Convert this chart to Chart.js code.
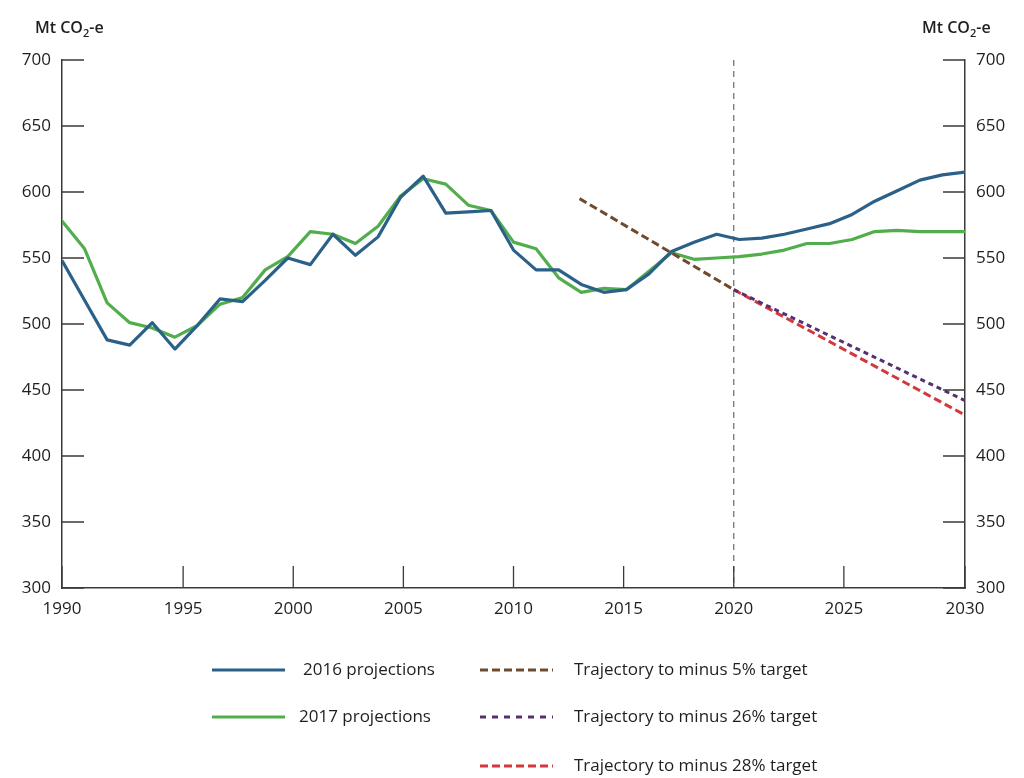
<!DOCTYPE html>
<html lang="en">
<head>
    <meta charset="UTF-8">
    <title>Emissions projections</title>
    <script src="https://cdn.jsdelivr.net/npm/chart.js"></script>
    <style>
        body { margin: 0; background: white; overflow: hidden; }
        #wrap { width: 1024px; height: 778px; position: relative; }
    </style>
</head>
<body>
    <div id="wrap"><canvas id="grafico"></canvas></div>
<script>

    // data
    const anos = [];
    for (let a = 1990; a <= 2030; a++) anos.push(a);

    const proj2016 = [548, 518, 488, 484, 501, 481, 499, 519, 517, 533,
        550, 545, 568, 552, 566, 596, 612, 584, 585, 586,
        556, 541, 541, 530, 524, 526, 538, 555, 562, 568,
        564, 565, 568, 572, 576, 583, 593, 601, 609, 613, 615];

    const proj2017 = [578, 557, 516, 501, 497, 490, 499, 515, 520, 541,
        551, 570, 568, 561, 574, 597, 610, 606, 590, 586,
        562, 557, 535, 524, 527, 526, 540, 554, 549, 550,
        551, 553, 556, 561, 561, 564, 570, 571, 570, 570, 570];

    // trajectories sit on the category style axis (edges at 1989.5 / 2030.5)
    const anosMenos5 = [2013, 2020];
    const menos5 = [595, 526];
    const anosMenos26 = [2020, 2030.5];
    const menos26 = [526, 442];
    const anosMenos28 = [2020, 2030.5];
    const menos28 = [526, 431];

    const ticksX = [1989.5, 1995, 2000, 2005, 2010, 2015, 2020, 2025, 2030.5];
    const rotulosX = ['1990', '1995', '2000', '2005', '2010', '2015', '2020', '2025', '2030'];
    const ticksY = [300, 350, 400, 450, 500, 550, 600, 650, 700];
    const linhaVertical = 2020;

    const FONTE = "'Open Sans', sans-serif";
    const AZUL = '#2b6189';
    const VERDE = '#52ad4c';
    const MARROM = '#6e4a2f';
    const ROXO = '#56306f';
    const VERMELHO = '#d2383d';
    const EIXO = '#3a3a3a';
    const TEXTO = '#1e1e1e';

    const pontos = (xs, ys) => xs.map((x, i) => ({ x: x, y: ys[i] }));

    const extras = {
        id: 'extras',
        beforeDatasetsDraw(chart) {
            const { ctx, chartArea, scales } = chart;
            const x = scales.xt.getPixelForValue(linhaVertical);
            ctx.save();
            ctx.strokeStyle = '#6a6a6a';
            ctx.lineWidth = 1.2;
            ctx.setLineDash([6, 5]);
            ctx.beginPath();
            ctx.moveTo(x, chartArea.top);
            ctx.lineTo(x, chartArea.bottom);
            ctx.stroke();
            ctx.restore();
        },
        afterDraw(chart) {
            const { ctx, chartArea, scales } = chart;
            ctx.save();
            // marcas para dentro
            ctx.strokeStyle = EIXO;
            ctx.lineWidth = 1.3;
            ctx.beginPath();
            ticksX.forEach(v => {
                const px = scales.xt.getPixelForValue(v);
                ctx.moveTo(px, chartArea.bottom);
                ctx.lineTo(px, chartArea.bottom - 22);
            });
            ticksY.forEach(v => {
                const py = scales.y.getPixelForValue(v);
                ctx.moveTo(chartArea.left, py);
                ctx.lineTo(chartArea.left + 22, py);
                const py2 = scales.y2.getPixelForValue(v);
                ctx.moveTo(chartArea.right, py2);
                ctx.lineTo(chartArea.right - 22, py2);
            });
            ctx.stroke();

            // titulos dos eixos
            const titulo = (xEsq) => {
                ctx.fillStyle = TEXTO;
                ctx.textBaseline = 'alphabetic';
                ctx.textAlign = 'left';
                ctx.font = '600 16px ' + FONTE;
                let px = xEsq;
                ctx.fillText('Mt CO', px, 33);
                px += ctx.measureText('Mt CO').width;
                ctx.font = '600 11px ' + FONTE;
                ctx.fillText('2', px, 37);
                px += ctx.measureText('2').width;
                ctx.font = '600 16px ' + FONTE;
                ctx.fillText('-e', px, 33);
            };
            titulo(35);
            titulo(922);

            // legenda
            const itens = [
                { x: 212, y: 670, cor: AZUL, dash: [], tx: 303, texto: '2016 projections' },
                { x: 212, y: 717, cor: VERDE, dash: [], tx: 299, texto: '2017 projections' },
                { x: 480, y: 670, cor: MARROM, dash: [8, 4], tx: 574, texto: 'Trajectory to minus 5% target' },
                { x: 480, y: 717, cor: ROXO, dash: [6, 6], tx: 574, texto: 'Trajectory to minus 26% target' },
                { x: 480, y: 766, cor: VERMELHO, dash: [8, 4], tx: 574, texto: 'Trajectory to minus 28% target' }
            ];
            itens.forEach(it => {
                ctx.strokeStyle = it.cor;
                ctx.lineWidth = 3;
                ctx.setLineDash(it.dash);
                ctx.beginPath();
                ctx.moveTo(it.x, it.y);
                ctx.lineTo(it.x + 73, it.y);
                ctx.stroke();
                ctx.setLineDash([]);
                ctx.fillStyle = TEXTO;
                ctx.font = '17px ' + FONTE;
                ctx.textBaseline = 'middle';
                ctx.fillText(it.texto, it.tx, it.y);
            });
            ctx.restore();
        }
    };

    const eixoY = (pos, largura) => ({
        type: 'linear',
        position: pos,
        min: 300,
        max: 700,
        afterBuildTicks: s => { s.ticks = ticksY.map(v => ({ value: v })); },
        afterFit: s => { s.width = largura; },
        grid: { display: false, drawTicks: false },
        border: { display: true, color: EIXO, width: 1.5 },
        ticks: { color: TEXTO, padding: 11, font: { family: FONTE, size: 17 } }
    });

    const ctx = document.getElementById('grafico').getContext('2d');
    const grafico = new Chart(ctx, {
        type: 'line',
        data: {
            datasets: [
                { label: 'Trajectory to minus 5% target', data: pontos(anosMenos5, menos5), borderColor: MARROM, borderWidth: 3, borderDash: [8, 4], xAxisID: 'xt', yAxisID: 'y' },
                { label: 'Trajectory to minus 26% target', data: pontos(anosMenos26, menos26), borderColor: ROXO, borderWidth: 3, borderDash: [5, 4], xAxisID: 'xt', yAxisID: 'y' },
                { label: 'Trajectory to minus 28% target', data: pontos(anosMenos28, menos28), borderColor: VERMELHO, borderWidth: 3, borderDash: [8, 4], xAxisID: 'xt', yAxisID: 'y' },
                { label: '2016 projections', data: pontos(anos, proj2016), borderColor: AZUL, borderWidth: 3.2, xAxisID: 'x', yAxisID: 'y' },
                { label: '2017 projections', data: pontos(anos, proj2017), borderColor: VERDE, borderWidth: 3.2, xAxisID: 'x', yAxisID: 'y' }
            ]
        },
        options: {
            responsive: true,
            maintainAspectRatio: false,
            animation: false,
            layout: { padding: { top: 60 } },
            elements: { point: { radius: 0 }, line: { tension: 0, borderJoinStyle: 'round' } },
            scales: {
                x: {
                    type: 'linear',
                    display: false,
                    min: 1990,
                    max: 2030
                },
                xt: {
                    type: 'linear',
                    position: 'bottom',
                    min: 1989.5,
                    max: 2030.5,
                    afterBuildTicks: s => { s.ticks = ticksX.map(v => ({ value: v })); },
                    afterFit: s => { s.height = 190; },
                    grid: { display: false, drawTicks: false },
                    border: { display: true, color: EIXO, width: 1.5 },
                    ticks: {
                        color: TEXTO, padding: 11, autoSkip: false, maxRotation: 0,
                        font: { family: FONTE, size: 17 },
                        callback: (v, i) => rotulosX[i]
                    }
                },
                y: eixoY('left', 62),
                y2: eixoY('right', 59)
            },
            plugins: {
                legend: { display: false },
                tooltip: { enabled: false }
            }
        },
        plugins: [extras]
    });

</script>
</body>
</html>
